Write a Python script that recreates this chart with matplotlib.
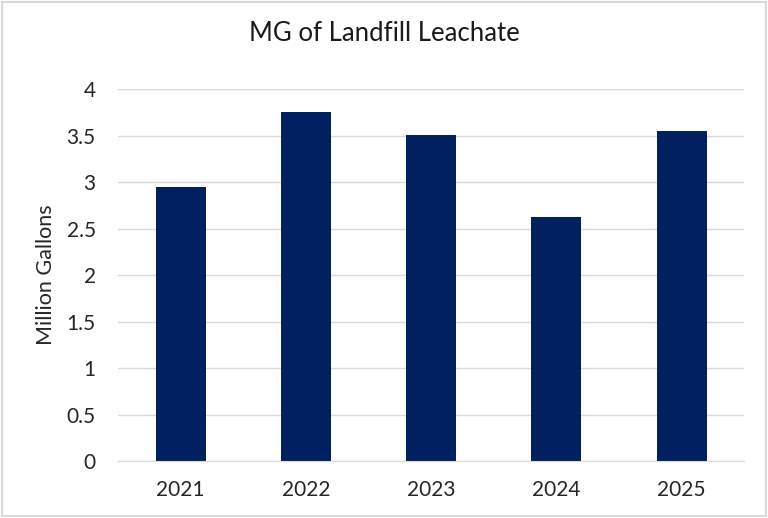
import matplotlib
matplotlib.use("Agg")
import matplotlib.pyplot as plt
from matplotlib.patches import Rectangle

years = ["2021", "2022", "2023", "2024", "2025"]
gallons = [2.95, 3.75, 3.51, 2.62, 3.55]
yticks = [0, 0.5, 1, 1.5, 2, 2.5, 3, 3.5, 4]
ytick_labels = ["0", "0.5", "1", "1.5", "2", "2.5", "3", "3.5", "4"]

plt.rcParams['font.family'] = ['Lato', 'DejaVu Sans']

fig = plt.figure(figsize=(7.68, 5.18), dpi=100)
ax = fig.add_axes([0.1536, 0.11, 0.8154, 0.718])

ax.bar(years, gallons, width=0.4, color="#002060", zorder=3)

ax.set_ylim(0, 4)
ax.set_xlim(-0.5, len(years) - 0.5)
ax.set_yticks(yticks)
ax.set_yticklabels(ytick_labels)
ax.grid(axis="y", color="#d9d9d9", linewidth=1, zorder=0)
ax.tick_params(length=0, labelsize=15, colors="#262626")
ax.tick_params(axis="y", pad=16)
ax.tick_params(axis="x", pad=14)
for s in ["top", "right", "left"]:
    ax.spines[s].set_visible(False)
ax.spines["bottom"].set_color("#d9d9d9")
ax.spines["bottom"].set_zorder(4)

ax.set_ylabel("Million Gallons", fontsize=15.5, color="#262626", labelpad=8)
fig.text(0.5, 0.935, "MG of Landfill Leachate", ha="center", va="center",
         fontsize=18.5, color="#1a1a1a")

# light frame round the chart
fig.patches.append(Rectangle((0.002, 0.003), 0.995, 0.993, transform=fig.transFigure,
                             fill=False, edgecolor="#d9d9d9", linewidth=1.5))

fig.savefig("out.png", dpi=100)
